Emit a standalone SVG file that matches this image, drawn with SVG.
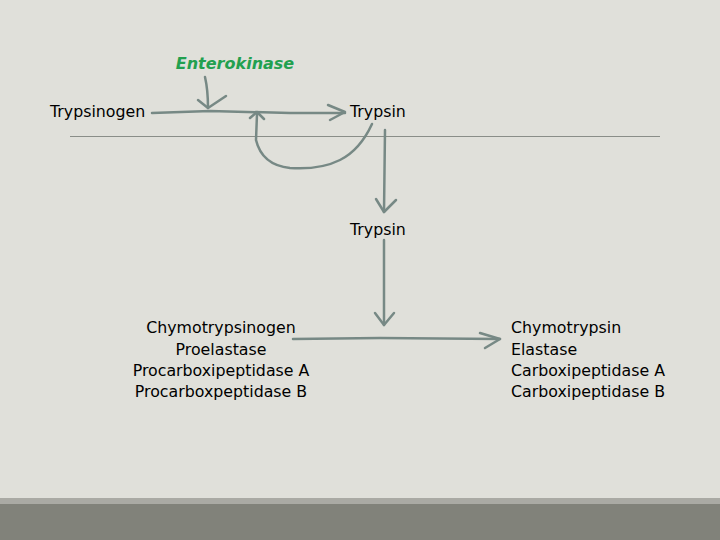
<svg xmlns="http://www.w3.org/2000/svg" width="720" height="540" viewBox="0 0 720 540">
<style>
.t{font-family:"DejaVu Sans",Verdana,sans-serif;font-size:15.8px;fill:#000}
.e{font-family:"DejaVu Sans",Verdana,sans-serif;font-size:16px;font-weight:bold;font-style:italic;fill:#22a04f}
.c{fill:none;stroke:#778985;stroke-width:2.5;stroke-linecap:round;stroke-linejoin:round}
</style>
<rect width="720" height="540" fill="#e0e0da"/>
<rect y="498" width="720" height="6" fill="#aaaaa4"/>
<rect y="504" width="720" height="36" fill="#81827a"/>
<line x1="70" y1="136.5" x2="660" y2="136.5" stroke="#8a8e88" stroke-width="1"/>
<g id="enterokinase"><text class="e" x="235" y="69" text-anchor="middle">Enterokinase</text></g>
<g id="trypsinogen"><text class="t" x="50" y="117">Trypsinogen</text></g>
<g id="trypsin1"><text class="t" x="350" y="117">Trypsin</text></g>
<g id="trypsin2"><text class="t" x="350" y="235">Trypsin</text></g>
<g id="zymogens"><text class="t" text-anchor="middle" x="221"><tspan x="221" y="333">Chymotrypsinogen</tspan><tspan x="221" y="355">Proelastase</tspan><tspan x="221" y="376">Procarboxipeptidase A</tspan><tspan x="221" y="397">Procarboxpeptidase B</tspan></text></g>
<g id="enzymes"><text class="t" x="511"><tspan x="511" y="333">Chymotrypsin</tspan><tspan x="511" y="355">Elastase</tspan><tspan x="511" y="376">Carboxipeptidase A</tspan><tspan x="511" y="397">Carboxipeptidase B</tspan></text></g>
<g id="connectors">
<path class="c" d="M152 113 L210 111 L290 113 L345 113"/>
<path class="c" d="M328 105 L345 112 L330 120"/>
<path class="c" d="M205 77 Q208 90 208 108"/>
<path class="c" d="M198 100 L208 108 L226 96"/>
<path class="c" d="M372 124 Q360 150 340 160 Q320 170 290 168 Q262 165 256 140 L257 114"/>
<path class="c" d="M250 118 L257 112 L264 119"/>
<path class="c" d="M385 130 L384 212"/>
<path class="c" d="M376 199 L384 212 L396 200"/>
<path class="c" d="M384 240 L384 325"/>
<path class="c" d="M375 313 L384 325 L394 313"/>
<path class="c" d="M293 339 L380 338 L500 339"/>
<path class="c" d="M480 333 L500 339 L485 348"/>
</g>
</svg>
